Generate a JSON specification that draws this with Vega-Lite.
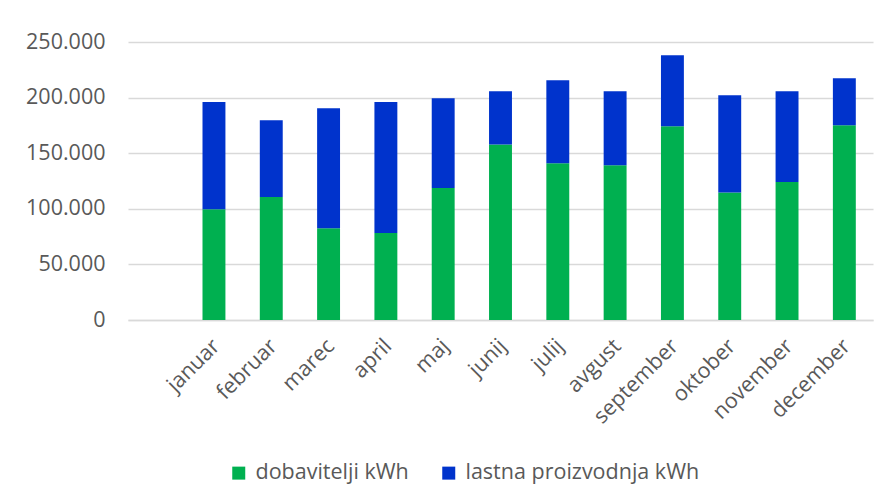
{
  "$schema": "https://vega.github.io/schema/vega-lite/v6.json",
  "width": 745,
  "height": 278,
  "autosize": {"type": "none"},
  "padding": {"left": 128, "top": 42, "right": 16, "bottom": 182},
  "background": "white",
  "data": {
    "values": [
      {"mesec": "januar", "vir": "dobavitelji kWh", "kwh": 99700},
      {"mesec": "januar", "vir": "lastna proizvodnja kWh", "kwh": 96400},
      {"mesec": "februar", "vir": "dobavitelji kWh", "kwh": 110500},
      {"mesec": "februar", "vir": "lastna proizvodnja kWh", "kwh": 69200},
      {"mesec": "marec", "vir": "dobavitelji kWh", "kwh": 82600},
      {"mesec": "marec", "vir": "lastna proizvodnja kWh", "kwh": 107800},
      {"mesec": "april", "vir": "dobavitelji kWh", "kwh": 78200},
      {"mesec": "april", "vir": "lastna proizvodnja kWh", "kwh": 117900},
      {"mesec": "maj", "vir": "dobavitelji kWh", "kwh": 118600},
      {"mesec": "maj", "vir": "lastna proizvodnja kWh", "kwh": 80800},
      {"mesec": "junij", "vir": "dobavitelji kWh", "kwh": 157800},
      {"mesec": "junij", "vir": "lastna proizvodnja kWh", "kwh": 47900},
      {"mesec": "julij", "vir": "dobavitelji kWh", "kwh": 141000},
      {"mesec": "julij", "vir": "lastna proizvodnja kWh", "kwh": 74600},
      {"mesec": "avgust", "vir": "dobavitelji kWh", "kwh": 139200},
      {"mesec": "avgust", "vir": "lastna proizvodnja kWh", "kwh": 66500},
      {"mesec": "september", "vir": "dobavitelji kWh", "kwh": 174300},
      {"mesec": "september", "vir": "lastna proizvodnja kWh", "kwh": 63700},
      {"mesec": "oktober", "vir": "dobavitelji kWh", "kwh": 114700},
      {"mesec": "oktober", "vir": "lastna proizvodnja kWh", "kwh": 87400},
      {"mesec": "november", "vir": "dobavitelji kWh", "kwh": 124000},
      {"mesec": "november", "vir": "lastna proizvodnja kWh", "kwh": 81700},
      {"mesec": "december", "vir": "dobavitelji kWh", "kwh": 175200},
      {"mesec": "december", "vir": "lastna proizvodnja kWh", "kwh": 42200}
    ]
  },
  "mark": {"type": "bar"},
  "encoding": {
    "x": {
      "field": "mesec",
      "type": "nominal",
      "sort": null,
      "scale": {
        "domain": [" ", "januar", "februar", "marec", "april", "maj", "junij", "julij", "avgust", "september", "oktober", "november", "december"],
        "paddingInner": 0.6,
        "paddingOuter": 0.3
      },
      "axis": {
        "title": null,
        "labelAngle": -45,
        "labelFont": "Open Sans",
        "labelFontSize": 21.5,
        "labelColor": "#595959",
        "labelPadding": 15,
        "labelOffset": -5,
        "ticks": false,
        "domainColor": "#d9d9d9",
        "domainWidth": 1.5,
        "grid": false
      }
    },
    "y": {
      "field": "kwh",
      "type": "quantitative",
      "aggregate": "sum",
      "stack": "zero",
      "scale": {"domain": [0, 250000], "nice": false},
      "axis": {
        "title": null,
        "values": [0, 50000, 100000, 150000, 200000, 250000],
        "format": ",.0f",
        "labelFont": "Open Sans",
        "labelFontSize": 21.5,
        "labelColor": "#595959",
        "labelPadding": 23,
        "ticks": false,
        "domain": false,
        "grid": true,
        "gridColor": "#d9d9d9",
        "gridWidth": 1.5
      }
    },
    "order": {"field": "vir", "sort": "ascending"},
    "color": {
      "field": "vir",
      "type": "nominal",
      "scale": {
        "domain": ["dobavitelji kWh", "lastna proizvodnja kWh"],
        "range": ["#00b050", "#0033cc"]
      },
      "legend": {
        "title": null,
        "orient": "none",
        "direction": "horizontal",
        "legendX": 100,
        "legendY": 420,
        "symbolType": "square",
        "symbolSize": 169,
        "symbolStrokeWidth": 0,
        "labelFont": "Open Sans",
        "labelFontSize": 21.5,
        "labelColor": "#595959",
        "labelOffset": 6,
        "labelLimit": 400,
        "columnPadding": 29
      }
    }
  },
  "config": {
    "view": {"stroke": null},
    "locale": {
      "number": {"decimal": ",", "thousands": ".", "grouping": [3], "currency": ["", " €"]}
    }
  }
}
